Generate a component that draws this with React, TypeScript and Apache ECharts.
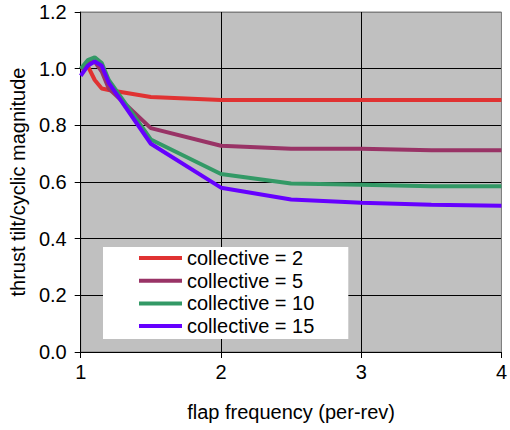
import React, { useEffect, useRef } from "react";
import * as echarts from "echarts";

const freq = [1, 1.05, 1.1, 1.15, 1.2, 1.5, 2, 2.5, 3, 3.5, 4];
const coll2 = [1.0, 1.01, 0.96, 0.93, 0.925, 0.9, 0.889, 0.889, 0.889, 0.889, 0.889];
const coll5 = [1.0, 1.02, 1.025, 0.99, 0.93, 0.79, 0.728, 0.717, 0.717, 0.712, 0.712];
const coll10 = [1.0, 1.03, 1.04, 1.02, 0.96, 0.75, 0.628, 0.595, 0.59, 0.585, 0.585];
const coll15 = [0.975, 1.01, 1.025, 1.01, 0.95, 0.735, 0.58, 0.538, 0.527, 0.52, 0.516];
const seriesNames = ["collective = 2", "collective = 5", "collective = 10", "collective = 15"];
const colors = ["#E03232", "#993366", "#339966", "#6600FF"];

export default function App() {
  const ref = useRef<HTMLDivElement>(null);
  useEffect(() => {
    if (!ref.current) return;
    const chart = echarts.init(ref.current, null, { renderer: "svg" });
    const all = [coll2, coll5, coll10, coll15];
    const font = "Liberation Sans, Arial, sans-serif";
    chart.setOption({
      animation: false,
      textStyle: { fontFamily: font },
      grid: {
        left: 76, right: 7, top: 12, bottom: 78,
        show: true, backgroundColor: "#C0C0C0", borderColor: "#808080", borderWidth: 1,
      },
      legend: {
        orient: "vertical",
        left: 103,
        top: 247,
        backgroundColor: "#FFFFFF",
        padding: [1, 34, 3, 36],
        itemGap: 2.7,
        itemWidth: 43,
        itemHeight: 4,
        icon: "rect",
        textStyle: { fontSize: 20, color: "#000", fontFamily: font, lineHeight: 20 },
        data: seriesNames,
      },
      xAxis: {
        type: "value",
        min: 1, max: 4, interval: 1,
        name: "flap frequency (per-rev)",
        nameLocation: "middle",
        nameGap: 50,
        nameTextStyle: { fontSize: 20, color: "#000", fontFamily: font },
        axisLine: { show: true, onZero: false, lineStyle: { color: "#000", width: 1 } },
        axisTick: { show: true, inside: false, length: 6, lineStyle: { color: "#000" } },
        axisLabel: { fontSize: 20, color: "#000", margin: 10, fontFamily: font },
        splitLine: { show: true, lineStyle: { color: ["#000", "#000", "#000", "#808080"], width: 1 } },
      },
      yAxis: {
        type: "value",
        min: 0, max: 1.2, interval: 0.2,
        name: "thrust tilt/cyclic magnitude",
        nameLocation: "middle",
        nameGap: 51,
        nameTextStyle: { fontSize: 20, color: "#000", fontFamily: font },
        axisLine: { show: true, onZero: false, lineStyle: { color: "#000", width: 1 } },
        axisTick: { show: true, inside: false, length: 6, lineStyle: { color: "#000" } },
        axisLabel: { fontSize: 20, color: "#000", margin: 14, fontFamily: font, formatter: (v: number) => v.toFixed(1) },
        splitLine: {
          show: true,
          lineStyle: { color: ["#000", "#000", "#000", "#000", "#000", "#000", "#808080"], width: 1 },
        },
      },
      series: all.map((vals, i) => ({
        name: seriesNames[i],
        type: "line",
        data: freq.map((f, j) => [f, vals[j]]),
        showSymbol: false,
        symbol: "none",
        lineStyle: { color: colors[i], width: 4 },
        itemStyle: { color: colors[i] },
      })),
    });
    return () => chart.dispose();
  }, []);
  return <div ref={ref} style={{ width: 510, height: 430, position: "absolute", left: 0, top: 0 }} />;
}
